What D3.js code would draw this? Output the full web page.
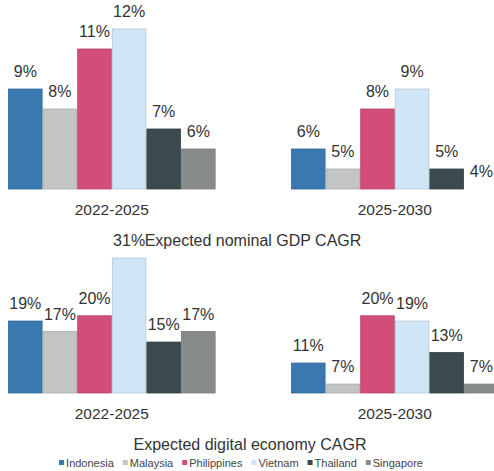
<!DOCTYPE html>
<html lang="en">

<head>
	<meta charset="utf-8">
	<title>CAGR</title>
	<style>
		body {
			margin: 0;
			background: #fff;
		}

		text {
			font-family: "Liberation Sans", Arial, sans-serif;
			fill: #333;
		}

		.val {
			font-size: 16px;
		}

		.cat {
			font-size: 15.5px;
		}

		.title {
			font-size: 16px;
		}

		.legend text {
			font-size: 11px;
			fill: #444;
		}
	</style>
</head>

<body>

	<div id="chart"></div>

	<script src="https://cdn.jsdelivr.net/npm/d3@7"></script>
	<script>
		var
			width = 494,
			height = 471;

		// data
		var countries = ["Indonesia", "Malaysia", "Philippines", "Vietnam", "Thailand", "Singapore"];
		var periods = ["2022-2025", "2025-2030"];
		var colors = ["#3a78b0", "#c2c5c4", "#d24d78", "#d0e5f6", "#3b4a4f", "#878c8a"];

		var gdp2022 = [9, 8, 11, 12, 7, 6];
		var gdp2025 = [6, 5, 8, 9, 5, 4];
		var digital2022 = [19, 17, 20, 31, 15, 17];
		var digital2025 = [11, 7, 20, 19, 13, 7];

		var titles = ["Expected nominal GDP CAGR", "Expected digital economy CAGR"];

		var svg = d3.select("#chart")
			.append("svg")
			.attr("width", width)
			.attr("height", height);

		var x0 = d3.scaleBand()
			.domain(periods)
			.range([8, 498.6])
			.paddingInner(0.2664)
			.paddingOuter(0);

		var x1 = d3.scaleBand()
			.domain(countries)
			.range([0, x0.bandwidth()]);

		// the two panels don't start at zero
		var panels = [
			{ series: [gdp2022, gdp2025], y: d3.scaleLinear().domain([4, 12]).range([189, 29]), catY: 215, title: titles[0], titleX: 253, titleY: 246 },
			{ series: [digital2022, digital2025], y: d3.scaleLinear().domain([5.3, 31]).range([393, 258]), catY: 419, title: titles[1], titleX: 250, titleY: 450 }
		];

		panels.forEach(function (p) {
			var g = svg.append("g");

			g.append("text")
				.attr("class", "title")
				.attr("x", p.titleX)
				.attr("y", p.titleY)
				.attr("text-anchor", "middle")
				.text(p.title);

			periods.forEach(function (period, i) {
				var rows = countries.map(function (c, j) {
					return { country: c, value: p.series[i][j], color: colors[j] };
				});

				var grp = g.append("g")
					.attr("transform", "translate(" + x0(period) + ",0)");

				grp.selectAll("rect")
					.data(rows)
					.enter().append("rect")
					.attr("x", function (d) { return x1(d.country) + 0.5; })
					.attr("y", function (d) { return p.y(d.value); })
					.attr("width", x1.bandwidth() - 1)
					.attr("height", function (d) { return p.y.range()[0] - p.y(d.value); })
					.attr("fill", function (d) { return d.color; })
					.attr("stroke", function (d) { return d3.color(d.color).darker(0.4); })
					.attr("stroke-width", 0.8);

				grp.selectAll("text.val")
					.data(rows)
					.enter().append("text")
					.attr("class", "val")
					.attr("x", function (d) { return x1(d.country) + x1.bandwidth() / 2; })
					.attr("y", function (d) { return p.y(d.value) - 12; })
					.attr("text-anchor", "middle")
					.text(function (d) { return d.value + "%"; });

				g.append("text")
					.attr("class", "cat")
					.attr("x", x0(period) + x0.bandwidth() / 2)
					.attr("y", p.catY)
					.attr("text-anchor", "middle")
					.text(period);
			});
		});

		// legend
		var legend = svg.append("g").attr("class", "legend");

		var items = legend.selectAll("g")
			.data(countries)
			.enter().append("g");

		items.append("rect")
			.attr("width", 5)
			.attr("height", 5)
			.attr("y", 460)
			.attr("fill", function (d, i) { return colors[i]; });

		items.append("text")
			.attr("x", 7)
			.attr("y", 467)
			.text(function (d) { return d; });

		var pos = 0, xs = [];
		items.each(function () {
			xs.push(pos);
			pos += 7 + this.querySelector("text").getComputedTextLength() + 9;
		});
		var start = 241 - (pos - 9) / 2;
		items.attr("transform", function (d, i) { return "translate(" + (start + xs[i]) + ",0)"; });

	</script>

</body>

</html>
